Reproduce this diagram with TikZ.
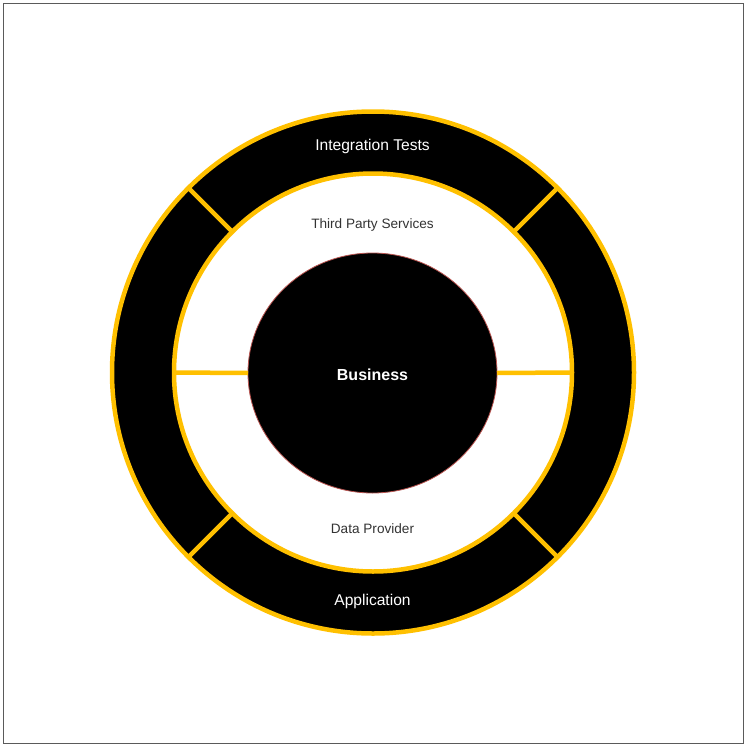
\documentclass[tikz,border=0pt]{standalone}
\usepackage{fontspec}
\setmainfont{Liberation Sans}
\usetikzlibrary{shapes.geometric}
\definecolor{ringyellow}{HTML}{FFC000}
\definecolor{framegray}{HTML}{5A5A5A}
\definecolor{rimred}{HTML}{B85450}
\definecolor{labelgray}{HTML}{333333}
\tikzset{
  ringline/.style={draw=ringyellow,line join=miter,line cap=butt,line width=4.5pt},
  ringlabel/.style={text=white,font=\fontsize{15.6}{18}\selectfont},
  gaplabel/.style={text=labelgray,font=\fontsize{13.6}{16}\selectfont}
}
\begin{document}
\begin{tikzpicture}[y=1pt,x=1pt,yscale=-1, inner sep=0pt, outer sep=0pt]
\useasboundingbox (0,0) rectangle (747,747);
\path[draw=framegray,line width=1.6pt] (3.5,3.5) rectangle (743.5,743.5);

% rings
\node[circle,ringline,fill=black,minimum size=522pt] (outerring) at (373,372.5) {};
\node[circle,ringline,fill=white,minimum size=398pt] (innerring) at (373,372.5) {};

% spokes
\path[ringline] (outerring.45) -- (innerring.45);
\path[ringline] (outerring.135) -- (innerring.135);
\path[ringline] (outerring.225) -- (innerring.225);
\path[ringline] (outerring.315) -- (innerring.315);

% core
\node[ellipse,draw=rimred,line width=0.8pt,fill=black,minimum width=249pt,minimum height=240pt] (business) at (372.5,373) {};
\path[ringline] (innerring.west) -- (business.west);
\path[ringline] (innerring.east) -- (business.east);
\node[text=white,font=\fontsize{16}{19}\selectfont\bfseries] (text_business) at (372.5,374.5) {Business};

% labels
\node[ringlabel] (text_integration) at (372.5,146.5) {Integration Tests};
\node[gaplabel] (text_thirdparty) at (372.5,224.5) {Third Party Services};
\node[gaplabel] (text_dataprovider) at (372.5,528.5) {Data Provider};
\node[ringlabel] (text_application) at (372.5,601.5) {Application};
\end{tikzpicture}
\end{document}
